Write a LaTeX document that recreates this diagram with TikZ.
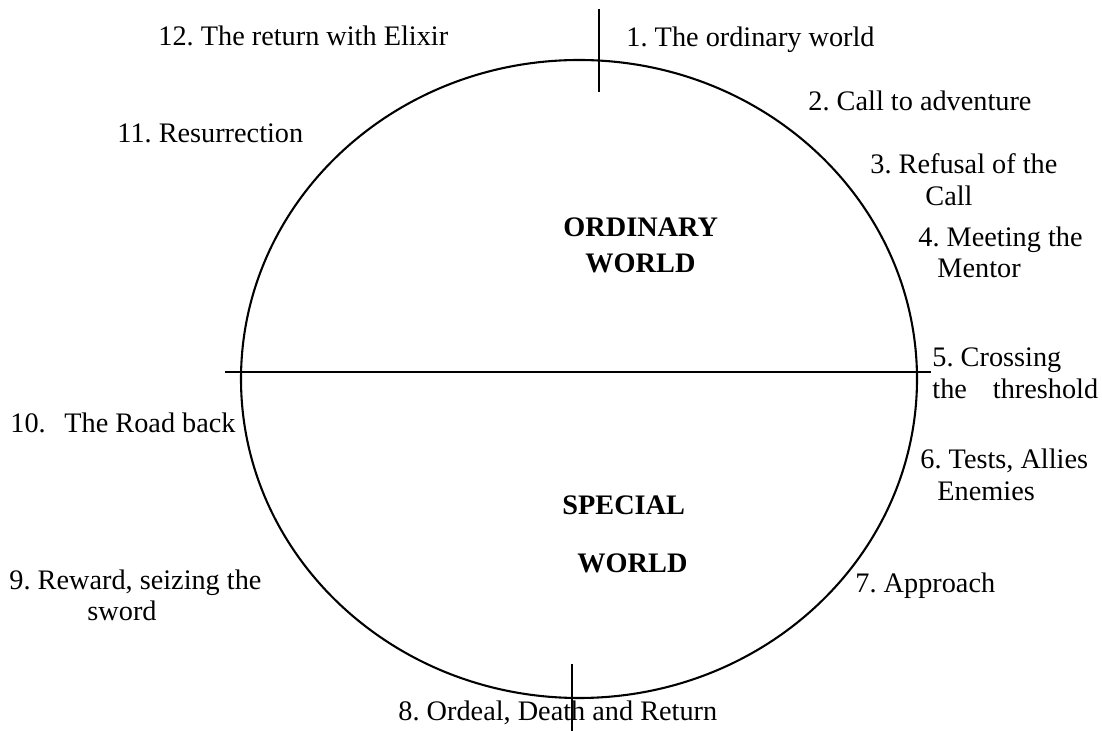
\documentclass[tikz,border=0pt]{standalone}
\usepackage{fontspec}
\setmainfont{Liberation Serif}
\usetikzlibrary{positioning}
\frenchspacing

\tikzset{
  stage/.style={font=\fontsize{12.2pt}{14pt}\selectfont, text=black, anchor=base west, inner sep=0pt},
  world/.style={font=\fontsize{12.2pt}{14pt}\selectfont\bfseries, text=black, anchor=base west, inner sep=0pt},
  rim/.style={black, line width=0.9pt}
}

\begin{document}
\begin{tikzpicture}[x=0.01516cm, y=-0.01516cm]
\useasboundingbox (0,0) rectangle (1102,731);

% journey circle and its dividing lines
\draw[rim] (579,379) ellipse [x radius=338, y radius=319];
\draw[rim] (225,372) -- (931,372);
\draw[rim] (599,9) -- (599,92);
\draw[rim] (572,664) -- (572,731);

% the two worlds
\node[world] (ord) at (563,237) {ORDINARY};
\node[world] (ordw) at (585,273) {WORLD};
\node[world] (spe) at (562,515) {SPECIAL};
\node[world] (spew) at (577,573) {WORLD};

% stages, clockwise from the top
\node[stage] (s1) at (626,47) {1. The ordinary world};
\node[stage] (s2) at (808,111) {2. Call to adventure};
\node[stage] (s3) at (870,174) {3. Refusal of the};
\node[stage] (s3b) at (925,206) {Call};
\node[stage] (s4) at (918,247) {4. Meeting the};
\node[stage] (s4b) at (937,278) {Mentor};
\node[stage] (s5) at (932,367) {5. Crossing};
\node[stage] (s5b) at (932,399) {\makebox[71.5pt][s]{the threshold}};
\node[stage] (s6) at (920,469) {6. Tests, Allies};
\node[stage] (s6b) at (937,501) {Enemies};
\node[stage] (s7) at (855,593) {7. Approach};
\node[stage] (s8) at (398,721) {8. Ordeal, Death and Return};
\node[stage] (s9) at (9,590) {9. Reward, seizing the};
\node[stage] (s9b) at (87,621) {sword};
\node[stage] (s10) at (10,433) {10.\hspace{5pt} The Road back};
\node[stage] (s11) at (117,143) {11. Resurrection};
\node[stage] (s12) at (158,46) {12. The return with Elixir};

\end{tikzpicture}
\end{document}
